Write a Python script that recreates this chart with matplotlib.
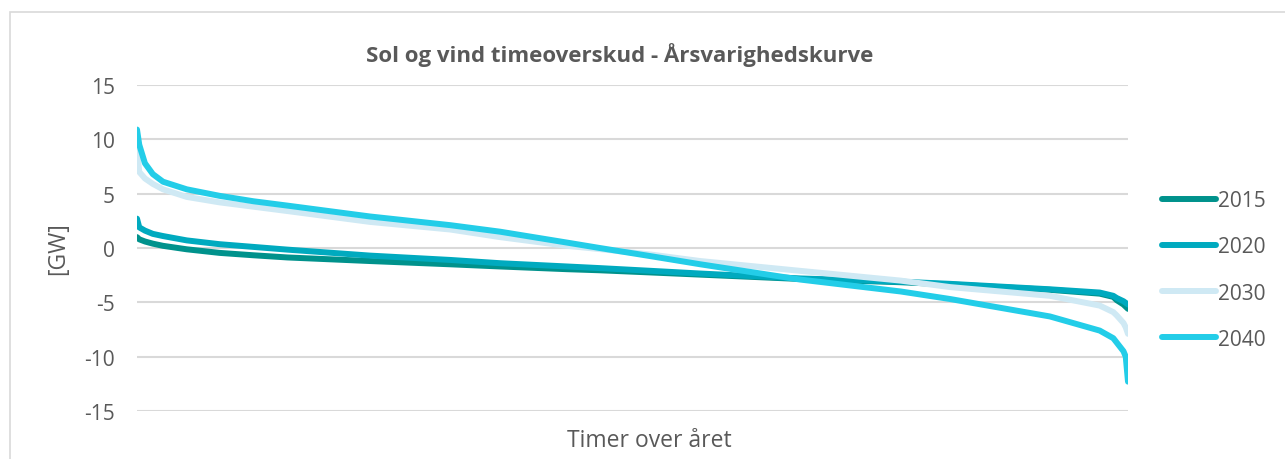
import matplotlib
matplotlib.use('Agg')
import matplotlib.pyplot as plt
from matplotlib.patches import Rectangle

# timer i året (varighedskurve, sorteret)
hours = [0, 20, 70, 140, 230, 440, 730, 1030, 1330, 2060, 2770, 3210, 3800,
         4090, 4540, 4980, 5860, 6750, 7190, 8070, 8510, 8630, 8660, 8720, 8740, 8760]

# overskud [GW]
y2015 = [1.0, 0.8, 0.6, 0.4, 0.2, -0.12, -0.45, -0.67, -0.87, -1.2, -1.5, -1.7, -1.95,
         -2.05, -2.25, -2.45, -2.85, -3.15, -3.35, -3.85, -4.2, -4.5, -4.8, -5.2, -5.4, -5.6]
y2020 = [2.7, 1.9, 1.6, 1.3, 1.1, 0.7, 0.35, 0.1, -0.15, -0.7, -1.1, -1.4, -1.7,
         -1.85, -2.1, -2.35, -2.8, -3.1, -3.3, -3.8, -4.1, -4.4, -4.6, -4.9, -5.05, -5.2]
y2030 = [9.1, 7.0, 6.4, 5.9, 5.4, 4.7, 4.2, 3.8, 3.4, 2.4, 1.7, 1.0, 0.2,
         -0.1, -0.6, -1.2, -2.1, -3.0, -3.6, -4.4, -5.3, -5.9, -6.2, -6.9, -7.3, -7.9]
y2040 = [10.9, 9.5, 7.8, 6.8, 6.1, 5.4, 4.8, 4.3, 3.9, 2.9, 2.1, 1.5, 0.5,
         0.0, -0.75, -1.5, -2.9, -4.0, -4.7, -6.3, -7.6, -8.3, -8.7, -9.5, -10.0, -12.3]

labels = ['2015', '2020', '2030', '2040']
colors = ['#00928C', '#00AABF', '#CFE9F4', '#23CDE8']
yticks = [-15, -10, -5, 0, 5, 10, 15]

plt.rcParams['font.family'] = ['Open Sans', 'DejaVu Sans']
plt.rcParams['axes.unicode_minus'] = False
GRAY = '#595959'

fig = plt.figure(figsize=(12.85, 4.6), dpi=100)
ax = fig.add_axes([137 / 1285, 1 - 412 / 460, 991 / 1285, 326 / 460])

# ramme om diagrammet
fig.patches.append(Rectangle((10 / 1285, -0.2), 2.0, 1 - 13 / 460 + 0.2,
                             transform=fig.transFigure, fill=False,
                             edgecolor='#D9D9D9', lw=1.2))

for ys, lab, col in zip([y2015, y2020, y2030, y2040], labels, colors):
    ax.plot(hours, ys, color=col, lw=4.3, label=lab, solid_capstyle='round',
            solid_joinstyle='round')

ax.set_xlim(0, 8760)
ax.set_ylim(-15, 15)
ax.set_yticks(yticks)
ax.set_xticks([])
ax.grid(axis='y', color='#D9D9D9', lw=1.5)
ax.set_axisbelow(True)
for s in ax.spines.values():
    s.set_visible(False)
ax.tick_params(axis='y', length=0, pad=16, labelsize=15, labelcolor=GRAY)

fig.text(620 / 1285, 1 - 55 / 460, 'Sol og vind timeoverskud - Årsvarighedskurve',
         ha='center', va='center', fontsize=16, fontweight='bold', color=GRAY)
fig.text(649 / 1285, 1 - 441 / 460, 'Timer over året', ha='center', va='center',
         fontsize=16.5, color=GRAY)
fig.text(58 / 1285, 1 - 249 / 460, '[GW]', ha='center', va='center', rotation=90,
         fontsize=16.5, color=GRAY)

leg = ax.legend(loc='center left', bbox_to_anchor=(1162 / 1285, 1 - 271 / 460),
                bbox_transform=fig.transFigure, frameon=False, fontsize=15,
                labelspacing=1.2, handlelength=2.6, handletextpad=0.1,
                borderpad=0, borderaxespad=0)
for t in leg.get_texts():
    t.set_color(GRAY)

fig.savefig('out.png', dpi=100)
